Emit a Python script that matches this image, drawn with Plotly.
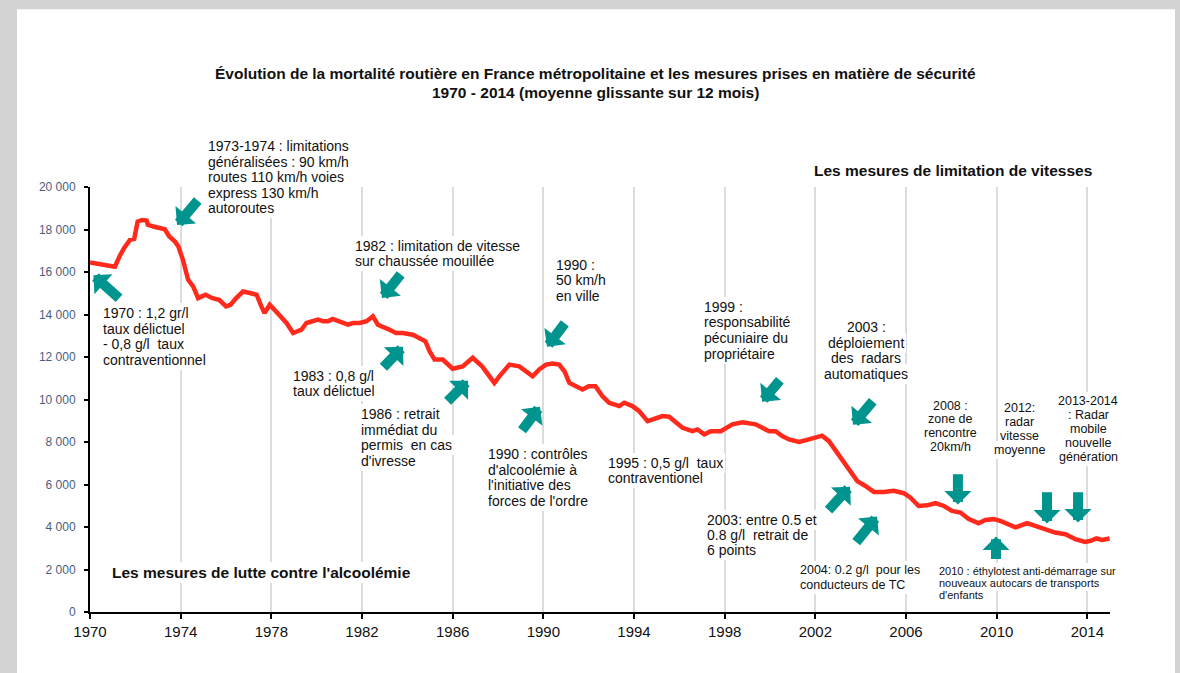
import plotly.graph_objects as go

# ---------------- data ----------------
years = [1970.0, 1970.5, 1971.1, 1971.3, 1971.5, 1971.76, 1971.95, 1972.1, 1972.3, 1972.5,
         1972.55, 1972.8, 1973.1, 1973.3, 1973.5, 1973.75, 1973.9, 1974.1, 1974.33, 1974.55,
         1974.77, 1975.0, 1975.1, 1975.4, 1975.7, 1976.0, 1976.2, 1976.45, 1976.75, 1977.05,
         1977.35, 1977.56, 1977.7, 1977.93, 1978.2, 1978.45, 1978.67, 1978.96, 1979.1, 1979.33,
         1979.55, 1979.84, 1980.06, 1980.3, 1980.5, 1980.7, 1980.93, 1981.16, 1981.38, 1981.6,
         1981.9, 1982.2, 1982.48, 1982.7, 1982.92, 1983.2, 1983.5, 1983.8, 1984.24, 1984.5,
         1984.8, 1984.98, 1985.2, 1985.56, 1985.86, 1986.0, 1986.44, 1986.88, 1987.3, 1987.6,
         1987.84, 1988.06, 1988.5, 1988.94, 1989.24, 1989.53, 1989.82, 1990.12, 1990.41, 1990.7,
         1990.93, 1991.15, 1991.44, 1991.73, 1992.0, 1992.3, 1992.6, 1992.9, 1993.35, 1993.57,
         1993.93, 1994.23, 1994.6, 1994.97, 1995.26, 1995.55, 1995.85, 1996.14, 1996.58, 1996.8,
         1997.1, 1997.39, 1997.83, 1998.05, 1998.34, 1998.78, 1999.07, 1999.37, 1999.66, 1999.96,
         2000.25, 2000.54, 2000.84, 2001.28, 2001.72, 2002.3, 2002.6, 2002.96, 2003.26, 2003.55,
         2003.85, 2004.21, 2004.58, 2005.02, 2005.46, 2005.9, 2006.2, 2006.56, 2006.93, 2007.3,
         2007.67, 2008.03, 2008.4, 2008.77, 2009.2, 2009.5, 2009.87, 2010.16, 2010.53, 2010.83,
         2011.34, 2011.7, 2012.14, 2012.58, 2013.03, 2013.47, 2013.9, 2014.15, 2014.4, 2014.65,
         2014.98]
deaths = [16450, 16380, 16250, 16730, 17120, 17510, 17560, 18370, 18450, 18420,
          18220, 18140, 18060, 18010, 17670, 17430, 17200, 16570, 15630, 15320,
          14770, 14850, 14930, 14770, 14690, 14380, 14460, 14770, 15080, 15010,
          14930, 14380, 14070, 14460, 14150, 13910, 13600, 13130, 13210, 13290,
          13600, 13680, 13760, 13680, 13680, 13790, 13680, 13600, 13520, 13600,
          13600, 13680, 13910, 13520, 13440, 13290, 13130, 13130, 13050, 12900,
          12740, 12270, 11880, 11880, 11560, 11450, 11560, 11960, 11560, 11090,
          10780, 11090, 11640, 11560, 11330, 11090, 11410, 11640, 11690, 11640,
          11330, 10780, 10620, 10470, 10620, 10620, 10160, 9850, 9690, 9850,
          9690, 9450, 8980, 9140, 9220, 9190, 8900, 8670, 8510, 8590,
          8360, 8510, 8510, 8670, 8830, 8930, 8900, 8830, 8670, 8510,
          8510, 8280, 8120, 8000, 8120, 8300, 8040, 7500, 7030, 6630,
          6160, 5930, 5650, 5650, 5700, 5590, 5380, 4990, 5020, 5120,
          4990, 4760, 4680, 4370, 4180, 4330, 4370, 4290, 4130, 3980,
          4180, 4050, 3900, 3740, 3660, 3430, 3300, 3350, 3460, 3390,
          3460]

x_tickvals = [1970, 1974, 1978, 1982, 1986, 1990, 1994, 1998, 2002, 2006, 2010, 2014]
x_ticktext = [str(v) for v in x_tickvals]
y_tickvals = [0, 2000, 4000, 6000, 8000, 10000, 12000, 14000, 16000, 18000, 20000]
y_ticktext = ["0", "2 000", "4 000", "6 000", "8 000", "10 000", "12 000",
              "14 000", "16 000", "18 000", "20 000"]

title_lines = ["Évolution de la mortalité routière en France métropolitaine et les mesures prises en matière de sécurité",
               "1970 - 2014 (moyenne glissante sur 12 mois)"]

# text blocks: lines, x (paper), y (paper, first line), font size, anchor, line spacing (px), bold
text_blocks = [
    (["1973-1974 : limitations", "généralisées : 90 km/h", "routes 110 km/h voies",
      "express 130 km/h", "autoroutes"], 0.1154, 1.0964, 14, "left", 15.6, False),
    (["1970 : 1,2 gr/l", "taux délictuel", "- 0,8 g/l  taux", "contraventionnel"],
     0.0130, 0.7032, 14, "left", 15.6, False),
    (["1982 : limitation de vitesse", "sur chaussée mouillée"], 0.2598, 0.8620, 14, "left", 15.3, False),
    (["1983 : 0,8 g/l", "taux délictuel"], 0.1993, 0.5558, 14, "left", 15.0, False),
    (["1986 : retrait", "immédiat du", "permis  en cas", "d'ivresse"], 0.2657, 0.4658, 14, "left", 15.5, False),
    (["1990 :", "50 km/h", "en ville"], 0.4569, 0.8167, 14, "left", 15.5, False),
    (["1990 : contrôles", "d'alcoolémie à", "l'initiative des", "forces de l'ordre"],
     0.3905, 0.3718, 14, "left", 15.6, False),
    (["1995 : 0,5 g/l  taux", "contraventionel"], 0.5081, 0.3506, 14, "left", 15.0, False),
    (["1999 :", "responsabilité", "pécuniaire du", "propriétaire"], 0.6020, 0.7187, 14, "left", 15.8, False),
    (["2003 :", "déploiement", "des  radars", "automatiques"], 0.7611, 0.6703, 14, "center", 15.6, False),
    (["2003: entre 0.5 et", "0.8 g/l  retrait de", "6 points"], 0.6049, 0.2174, 14, "left", 15.0, False),
    (["2004: 0.2 g/l  pour les", "conducteurs de TC"], 0.6961, 0.0999, 12.5, "left", 15.0, False),
    (["2008 :", "zone de", "rencontre", "20km/h"], 0.8436, 0.4853, 12.5, "center", 13.6, False),
    (["2012:", "radar", "vitesse", "moyenne"], 0.9111, 0.4799, 12.5, "center", 13.9, False),
    (["2013-2014", ": Radar", "mobile", "nouvelle", "génération"], 0.9787, 0.4971, 12.5, "center", 14.1, False),
    (["2010 : éthylotest anti-démarrage sur", "nouveaux autocars de transports", "d'enfants"],
     0.8326, 0.0959, 11, "left", 11.7, False),
    (["Les mesures de limitation de vitesses"], 0.7098, 1.0399, 15.5, "left", 16, True),
    (["Les mesures de lutte contre l'alcoolémie"], 0.0213, 0.0928, 15.5, "left", 16, True),
]

# arrows: (head_x, head_y, tail_x, tail_y) in data units
arrows = [
    (1970.15, 15850, 1971.35, 14700),
    (1973.84, 18213, 1974.81, 19435),
    (1982.88, 14782, 1983.76, 15957),
    (1983.81, 12479, 1982.88, 11445),
    (1986.68, 10881, 1985.71, 9847),
    (1990.16, 12479, 1991.00, 13654),
    (1989.85, 9659, 1989.01, 8484),
    (1999.65, 9894, 2000.49, 10975),
    (2003.66, 8813, 2004.59, 9988),
    (2003.53, 5899, 2002.52, 4724),
    (2004.72, 4489, 2003.75, 3220),
    (2008.29, 5053, 2008.29, 6557),
    (2009.97, 3549, 2009.97, 2421),
    (2012.22, 4160, 2012.22, 5711),
    (2013.59, 4207, 2013.59, 5711),
]

FONT = "Liberation Sans, Arial, Helvetica, sans-serif"
LINE_COLOR = "#ff2a1c"
ARROW_COLOR = "#00948e"
TEXT_COLOR = "#111111"

fig = go.Figure()
fig.add_trace(go.Scatter(x=years, y=deaths, mode="lines",
                         line=dict(color=LINE_COLOR, width=4.5),
                         hoverinfo="skip", showlegend=False))

annotations = []
# pass 1: white boxes (hide the grid lines behind the texts)
# pass 2: the texts themselves on transparent boxes
for pass_no in (1, 2):
    for lines, x, y, size, anchor, spacing, bold in text_blocks:
        for i, t in enumerate(lines):
            txt = f"<b>{t}</b>" if bold else t
            annotations.append(dict(
                x=x, y=y, xref="paper", yref="paper", text=txt, showarrow=False,
                xanchor=anchor, yanchor="middle", align=anchor,
                yshift=-i * spacing, xshift=(-2 if anchor == "left" else 0),
                font=dict(family=FONT, size=size,
                          color=("white" if pass_no == 1 else TEXT_COLOR)),
                bgcolor=("white" if pass_no == 1 else "rgba(0,0,0,0)"),
                borderpad=2, borderwidth=0))

for hx, hy, tx, ty in arrows:
    annotations.append(dict(
        x=hx, y=hy, xref="x", yref="y", ax=tx, ay=ty, axref="x", ayref="y",
        text="", showarrow=True, arrowhead=1, arrowsize=0.45, arrowwidth=10,
        arrowcolor=ARROW_COLOR, standoff=0, startstandoff=0))

# title (two lines)
for i, t in enumerate(title_lines):
    annotations.append(dict(
        x=0.4951, y=[1.268, 1.2233][i], xref="paper", yref="paper",
        text=f"<b>{t}</b>", showarrow=False, xanchor="center", yanchor="middle",
        font=dict(family=FONT, size=15.5, color=TEXT_COLOR)))

fig.update_layout(
    width=1180, height=673,
    margin=dict(l=90, r=70, t=187, b=61),
    paper_bgcolor="#d2d2d2",
    plot_bgcolor="white",
    font=dict(family=FONT, color=TEXT_COLOR),
    showlegend=False,
    annotations=annotations,
    shapes=[dict(type="rect", xref="paper", yref="paper",
                 x0=-0.0716, x1=1.0637, y0=-0.2, y1=1.4183,
                 fillcolor="white", line=dict(width=0), layer="below")],
    xaxis=dict(range=[1970, 2015], tickvals=x_tickvals, ticktext=x_ticktext,
               showgrid=True, gridcolor="#dcdcdc", gridwidth=1.5,
               showline=True, linecolor="black", linewidth=2,
               ticks="outside", ticklen=5, tickwidth=1.5, tickcolor="black",
               tickfont=dict(family=FONT, size=15, color=TEXT_COLOR),
               zeroline=False, fixedrange=True),
    yaxis=dict(range=[0, 20000], tickvals=y_tickvals, ticktext=y_ticktext,
               showgrid=False, showline=True, linecolor="black", linewidth=2,
               ticks="outside", ticklen=4, tickwidth=1.5, tickcolor="black",
               tickfont=dict(family=FONT, size=12, color="#4b5d7e"),
               ticklabelstandoff=6,
               zeroline=False, fixedrange=True),
)

fig.write_html("out.html",
               config={"displayModeBar": False},
               post_script="document.body.style.margin='0';"
                           "document.body.style.background='#d2d2d2';")
